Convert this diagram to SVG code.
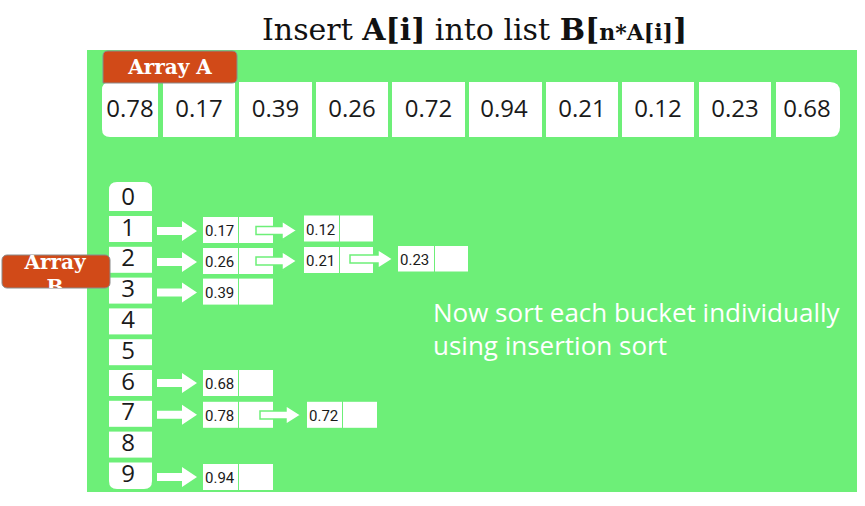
<svg xmlns="http://www.w3.org/2000/svg" width="865" height="506" viewBox="0 0 865 506">
<defs>
<style>
.bg{fill:#6DEF78}
.cell{fill:#ffffff}
.num{font-family:"Open Sans","Liberation Sans",sans-serif;font-size:24px;fill:#1a1a1a;text-anchor:middle}
.idx{font-family:"Open Sans","Liberation Sans",sans-serif;font-size:24px;fill:#1a1a1a;text-anchor:middle}
.nv{font-family:Roboto,"Liberation Sans",sans-serif;font-size:15px;fill:#1a1a1a}
.lbl{fill:#D14A18;stroke:#8a8a8a;stroke-width:1}
.lt{font-family:"DejaVu Serif","Liberation Serif",serif;font-weight:bold;font-size:20px;fill:#ffffff;text-anchor:middle}
.arr{fill:#ffffff}
.ptr{fill:#ffffff;stroke:#6DEF78;stroke-width:1.5;stroke-linejoin:miter}
.note{font-family:"Open Sans","Liberation Sans",sans-serif;font-size:26px;fill:#ffffff}
.title{font-family:"DejaVu Serif","Liberation Serif",serif;font-size:30px;fill:#111111}
</style>
<clipPath id="clipB"><rect x="2" y="255" width="108" height="33" rx="5"/></clipPath>
</defs>
<rect width="865" height="506" fill="#ffffff"/>
<rect class="bg" x="87" y="50" width="770" height="442"/>
<text id="title" class="title" x="262" y="40">Insert <tspan font-weight="bold">A[i]</tspan> into list <tspan font-weight="bold">B[</tspan><tspan font-weight="bold" font-size="22">n*A[i]</tspan><tspan font-weight="bold">]</tspan></text>

<g id="arrayA">
<path class="cell" d="M110 82 H158 V137 H110 Q102 137 102 129 V90 Q102 82 110 82 Z"/>
<rect class="cell" x="163" y="82" width="72" height="55"/>
<rect class="cell" x="239" y="82" width="73" height="55"/>
<rect class="cell" x="316" y="82" width="72" height="55"/>
<rect class="cell" x="392" y="82" width="73" height="55"/>
<rect class="cell" x="469" y="82" width="73" height="55"/>
<rect class="cell" x="546" y="82" width="72" height="55"/>
<rect class="cell" x="622" y="82" width="72" height="55"/>
<rect class="cell" x="699" y="82" width="72" height="55"/>
<path class="cell" d="M776 82 H830 Q840 82 840 92 V127 Q840 137 830 137 H776 Z"/>
<text class="num" x="130" y="117">0.78</text>
<text class="num" x="199" y="117">0.17</text>
<text class="num" x="275.5" y="117">0.39</text>
<text class="num" x="352" y="117">0.26</text>
<text class="num" x="428.5" y="117">0.72</text>
<text class="num" x="504" y="117">0.94</text>
<text class="num" x="582" y="117">0.21</text>
<text class="num" x="658" y="117">0.12</text>
<text class="num" x="735" y="117">0.23</text>
<text class="num" x="807" y="117">0.68</text>
</g>

<g id="labelA">
<path class="lbl" d="M108 51 H232 Q237 51 237 56 V78 Q237 83 232 83 H103 V56 Q103 51 108 51 Z"/>
<text class="lt" x="170" y="74">Array A</text>
</g>

<g id="arrayB">
<path class="cell" d="M117 182 H144 Q152 182 152 190 V211 H109 V190 Q109 182 117 182 Z"/>
<rect class="cell" x="109" y="216" width="43" height="26"/>
<rect class="cell" x="109" y="246.8" width="43" height="26"/>
<rect class="cell" x="109" y="277.6" width="43" height="26"/>
<rect class="cell" x="109" y="308.4" width="43" height="26"/>
<rect class="cell" x="109" y="339.2" width="43" height="26"/>
<rect class="cell" x="109" y="370" width="43" height="26"/>
<rect class="cell" x="109" y="400.8" width="43" height="26"/>
<rect class="cell" x="109" y="431.6" width="43" height="26"/>
<path class="cell" d="M109 462.4 H152 V481 Q152 489 144 489 H117 Q109 489 109 481 Z"/>
<text class="idx" x="128" y="205">0</text>
<text class="idx" x="128" y="235.5">1</text>
<text class="idx" x="128" y="266.3">2</text>
<text class="idx" x="128" y="297.1">3</text>
<text class="idx" x="128" y="327.9">4</text>
<text class="idx" x="128" y="358.7">5</text>
<text class="idx" x="128" y="389.5">6</text>
<text class="idx" x="128" y="420.3">7</text>
<text class="idx" x="128" y="451.1">8</text>
<text class="idx" x="128" y="481.9">9</text>
</g>

<g id="labelB">
<rect class="lbl" x="2" y="255" width="108" height="33" rx="5"/>
<g clip-path="url(#clipB)">
<text class="lt" x="55" y="269" font-size="21">Array</text>
<text class="lt" x="55" y="294" font-size="21">B</text>
</g>
</g>

<g id="n017">
<rect class="cell" x="203" y="217" width="35" height="26"/><rect class="cell" x="239" y="217" width="34" height="26"/>
<text class="nv" x="205" y="236">0.17</text>
</g>
<g id="n012">
<rect class="cell" x="304" y="215.5" width="35" height="26"/><rect class="cell" x="340" y="215.5" width="33" height="26"/>
<text class="nv" x="306" y="234.5">0.12</text>
</g>
<g id="n026">
<rect class="cell" x="203" y="248" width="35" height="26"/><rect class="cell" x="239" y="248" width="34" height="26"/>
<text class="nv" x="205" y="267">0.26</text>
</g>
<g id="n021">
<rect class="cell" x="304" y="247" width="35" height="26"/><rect class="cell" x="340" y="247" width="33" height="26"/>
<text class="nv" x="306" y="266">0.21</text>
</g>
<g id="n023">
<rect class="cell" x="398" y="246" width="36" height="25.5"/><rect class="cell" x="435" y="246" width="33" height="25.5"/>
<text class="nv" x="400" y="265">0.23</text>
</g>
<g id="n039">
<rect class="cell" x="203" y="278.6" width="35" height="26"/><rect class="cell" x="239" y="278.6" width="34" height="26"/>
<text class="nv" x="205" y="297.6">0.39</text>
</g>
<g id="n068">
<rect class="cell" x="203" y="370" width="35" height="26"/><rect class="cell" x="239" y="370" width="34" height="26"/>
<text class="nv" x="205" y="389">0.68</text>
</g>
<g id="n078">
<rect class="cell" x="203" y="401.8" width="35" height="26"/><rect class="cell" x="239" y="401.8" width="34" height="26"/>
<text class="nv" x="205" y="420.8">0.78</text>
</g>
<g id="n072">
<rect class="cell" x="307" y="401.8" width="35" height="26"/><rect class="cell" x="343" y="401.8" width="34" height="26"/>
<text class="nv" x="309" y="420.8">0.72</text>
</g>
<g id="n094">
<rect class="cell" x="203" y="464" width="35" height="26"/><rect class="cell" x="239" y="464" width="34" height="26"/>
<text class="nv" x="205" y="483">0.94</text>
</g>

<g id="connectors">
<polygon class="arr" points="157,227 182,227 182,221 197,231 182,241 182,235 157,235"/>
<polygon class="arr" points="157,258 182,258 182,252 197,262 182,272 182,266 157,266"/>
<polygon class="arr" points="157,288.6 182,288.6 182,282.6 197,292.6 182,302.6 182,296.6 157,296.6"/>
<polygon class="arr" points="157,379 182,379 182,373 197,383 182,393 182,387 157,387"/>
<polygon class="arr" points="157,410.8 182,410.8 182,404.8 197,414.8 182,424.8 182,418.8 157,418.8"/>
<polygon class="arr" points="157,473 182,473 182,467 197,477 182,487 182,481 157,481"/>
<polygon class="ptr" points="256,226.5 282,226.5 282,221 297,230.5 282,240 282,234.5 256,234.5"/>
<polygon class="ptr" points="256,257 282,257 282,251.5 297,261 282,270.5 282,265 256,265"/>
<polygon class="ptr" points="350,255 378,255 378,249.5 393,259 378,268.5 378,263 350,263"/>
<polygon class="ptr" points="260,411 286,411 286,405.5 301,415 286,424.5 286,419 260,419"/>
</g>

<g id="note">
<text class="note" x="433" y="322">Now sort each bucket individually</text>
<text class="note" x="433" y="355">using insertion sort</text>
</g>
</svg>
